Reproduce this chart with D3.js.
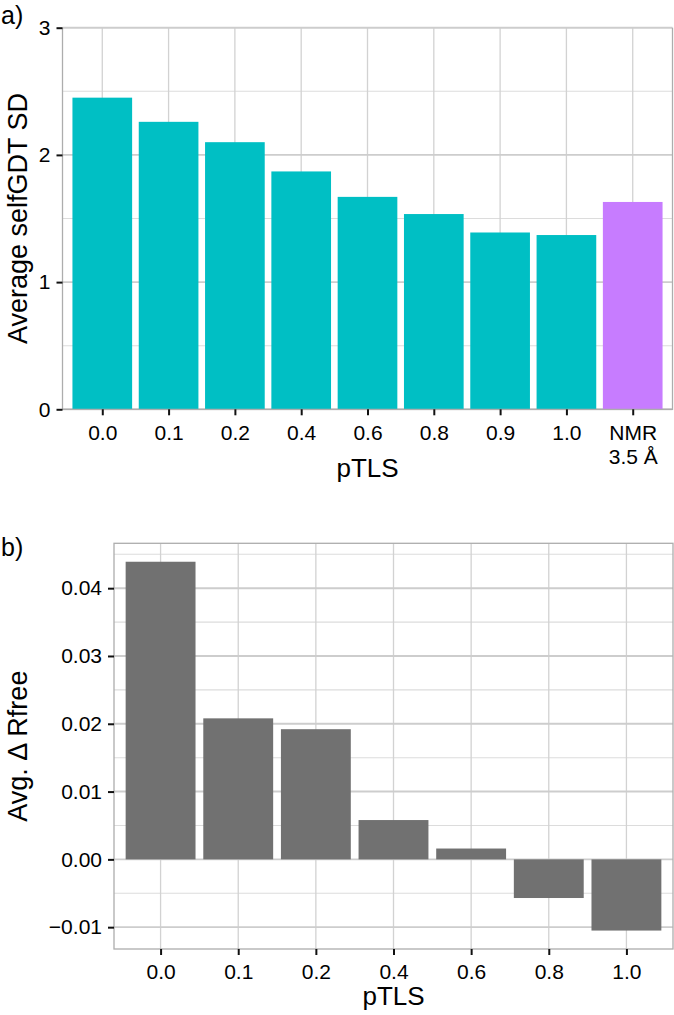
<!DOCTYPE html>
<html>
<head>
<meta charset="utf-8">
<script src="https://cdn.jsdelivr.net/npm/d3@7"></script>
<style>
  html, body { margin: 0; padding: 0; background: #fff; }
  svg { display: block; }
  text { font-family: "Liberation Sans", Arial, Helvetica, sans-serif; fill: #000; }
</style>
</head>
<body>
<svg id="chart" width="674" height="1015"></svg>
<script>
// ---- Data ----
const topCategories = ["0.0", "0.1", "0.2", "0.4", "0.6", "0.8", "0.9", "1.0", "NMR\n3.5 Å"];
const topValues = [2.45, 2.26, 2.10, 1.87, 1.67, 1.535, 1.39, 1.37, 1.63];
const topGroups = ["pTLS", "pTLS", "pTLS", "pTLS", "pTLS", "pTLS", "pTLS", "pTLS", "NMR"];
const topYTicks = [0, 1, 2, 3];
const topYMinor = [0.5, 1.5, 2.5];

const botCategories = ["0.0", "0.1", "0.2", "0.4", "0.6", "0.8", "1.0"];
const botValues = [0.0439, 0.0208, 0.0192, 0.0058, 0.0016, -0.0057, -0.0105];
const botYTicks = [-0.01, 0.00, 0.01, 0.02, 0.03, 0.04];
const botYMinor = [-0.005, 0.005, 0.015, 0.025, 0.035, 0.045];

const groupColors = { pTLS: "#00BFC4", NMR: "#C77CFF" };
const botColor = "#717171";

const svg = d3.select("#chart");

function ggBand(cats, x0, x1) {
  // ggplot discrete scale: 0.6 expansion on each side, bar width 0.9
  const n = cats.length;
  const unit = (x1 - x0) / (n - 1 + 1.2);
  const scale = d3.scalePoint().domain(cats).range([x0 + 0.6 * unit, x1 - 0.6 * unit]);
  return { scale, unit };
}

function drawPanel(cfg) {
  const g = svg.append("g");
  const { x0, x1, y0, y1 } = cfg;
  const y = d3.scaleLinear().domain(cfg.yDomain).range([y1, y0]);
  const { scale: x, unit } = ggBand(cfg.cats, x0, x1);
  const bw = unit * 0.9;

  // panel background & grid
  g.append("rect").attr("x", x0).attr("y", y0).attr("width", x1 - x0).attr("height", y1 - y0).attr("fill", "#fff");
  g.selectAll(".ymin").data(cfg.yMinor.filter(v => y(v) >= y0 && y(v) <= y1)).enter().append("line")
    .attr("x1", x0).attr("x2", x1).attr("y1", d => y(d)).attr("y2", d => y(d))
    .attr("stroke", "#dcdcdc").attr("stroke-width", 1.1);
  g.selectAll(".xmaj").data(cfg.cats).enter().append("line")
    .attr("x1", d => x(d)).attr("x2", d => x(d)).attr("y1", y0).attr("y2", y1)
    .attr("stroke", "#d2d2d2").attr("stroke-width", 1.3);
  g.selectAll(".ymaj").data(cfg.yTicks).enter().append("line")
    .attr("x1", x0).attr("x2", x1).attr("y1", d => y(d)).attr("y2", d => y(d))
    .attr("stroke", "#cdcdcd").attr("stroke-width", 1.9);

  // bars
  g.selectAll(".bar").data(cfg.vals).enter().append("rect")
    .attr("x", (d, i) => x(cfg.cats[i]) - bw / 2)
    .attr("width", bw)
    .attr("y", d => Math.min(y(d), y(0)))
    .attr("height", d => Math.abs(y(d) - y(0)))
    .attr("fill", (d, i) => cfg.color(i));

  // border
  if (cfg.fullBorder) {
    g.append("rect").attr("x", x0).attr("y", y0).attr("width", x1 - x0).attr("height", y1 - y0)
      .attr("fill", "none").attr("stroke", "#adadad").attr("stroke-width", 1.3);
  } else {
    g.append("path").attr("d", `M${x0},${y0}V${y1}H${x1}V${y0}`)
      .attr("fill", "none").attr("stroke", "#adadad").attr("stroke-width", 1.3);
  }

  // y axis
  const yAxis = d3.axisLeft(y).tickValues(cfg.yTicks).tickSize(6).tickPadding(6).tickFormat(cfg.yFmt);
  const ya = g.append("g").attr("transform", `translate(${x0},0)`).call(yAxis);
  ya.select(".domain").remove();
  ya.selectAll(".tick line").attr("stroke", "#111").attr("stroke-width", 2);
  ya.selectAll(".tick text").attr("font-size", 21).attr("fill", "#000")
    .attr("font-family", "Liberation Sans, Arial, sans-serif");

  // x axis
  const xAxis = d3.axisBottom(x).tickSize(6).tickPadding(5).tickFormat("");
  const xa = g.append("g").attr("transform", `translate(0,${y1})`).call(xAxis);
  xa.select(".domain").remove();
  xa.selectAll(".tick line").attr("stroke", "#111").attr("stroke-width", 2);
  xa.selectAll(".tick").each(function(d) {
    const lines = d.split("\n");
    const t = d3.select(this).append("text").attr("text-anchor", "middle").attr("font-size", 21)
      .attr("font-family", "Liberation Sans, Arial, sans-serif");
    lines.forEach((ln, i) => {
      t.append("tspan").attr("x", 0).attr("y", cfg.xLabelBase - y1 + i * 24).text(ln);
    });
  });

  // titles
  g.append("text").attr("x", (x0 + x1) / 2).attr("y", cfg.xTitleBase).attr("text-anchor", "middle")
    .attr("font-size", 26).text(cfg.xTitle);
  g.append("text").attr("transform", `translate(${cfg.yTitleX},${(y0 + y1) / 2}) rotate(-90)`)
    .attr("text-anchor", "middle").attr("font-size", 27).text(cfg.yTitle);
  g.append("text").attr("x", 1).attr("y", cfg.tagY).attr("font-size", 25).text(cfg.tag);
}

drawPanel({
  x0: 62.5, x1: 672.5, y0: 27.7, y1: 409.3,
  yDomain: [0, 3], yTicks: topYTicks, yMinor: topYMinor, yFmt: d3.format("d"),
  cats: topCategories, vals: topValues, color: i => groupColors[topGroups[i]],
  fullBorder: false,
  xLabelBase: 440, xTitleBase: 477, xTitle: "pTLS",
  yTitleX: 27, yTitle: "Average selfGDT SD",
  tag: "a)", tagY: 24
});

drawPanel({
  x0: 114, x1: 673, y0: 543.3, y1: 949,
  yDomain: [-0.01322, 0.04662], yTicks: botYTicks, yMinor: botYMinor, yFmt: d3.format(".2f"),
  cats: botCategories, vals: botValues, color: i => botColor,
  fullBorder: true,
  xLabelBase: 979, xTitleBase: 1005, xTitle: "pTLS",
  yTitleX: 27, yTitle: "Avg. Δ Rfree",
  tag: "b)", tagY: 556
});
</script>
</body>
</html>
